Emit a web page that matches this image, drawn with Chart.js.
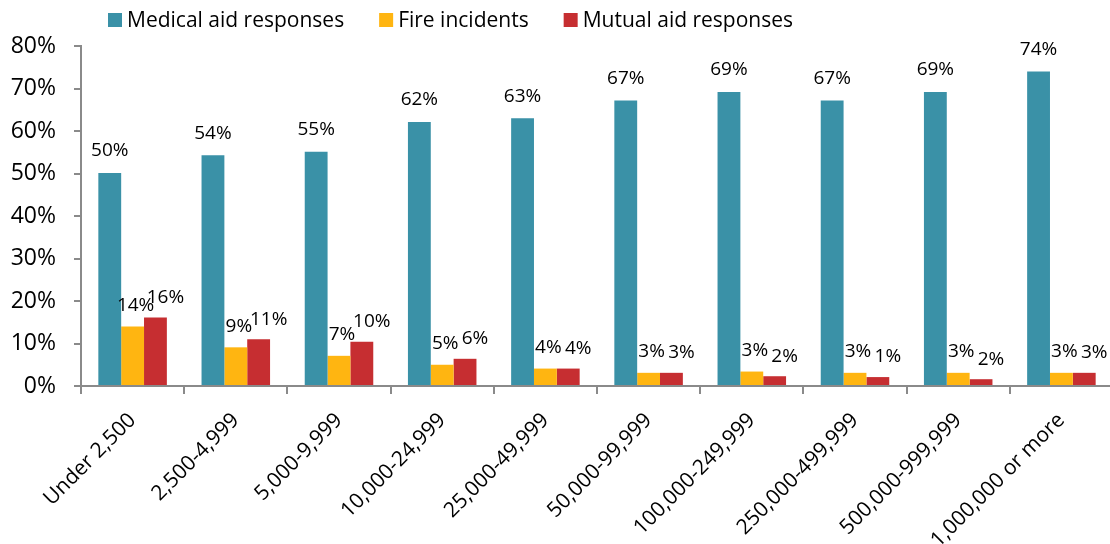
<!DOCTYPE html>
<html>
<head>
<meta charset="utf-8">
<script src="https://cdn.jsdelivr.net/npm/chart.js@4.4.0/dist/chart.umd.min.js"></script>
<style>
  html, body { margin: 0; padding: 0; background: #fff; overflow: hidden; }
  #wrap { width: 1116px; height: 544px; }
</style>
</head>
<body>
<div id="wrap"><canvas id="myChart" width="1116" height="544"></canvas></div>
<script>
// population groups
const categories = ['Under 2,500', '2,500-4,999', '5,000-9,999', '10,000-24,999', '25,000-49,999',
    '50,000-99,999', '100,000-249,999', '250,000-499,999', '500,000-999,999', '1,000,000 or more'];

// bar heights, percent
const medicalAid = [50.1, 54.3, 55.1, 62.1, 63.0, 67.2, 69.2, 67.2, 69.2, 74.0];
const fireIncidents = [14.0, 9.1, 7.1, 5.0, 4.1, 3.1, 3.4, 3.1, 3.1, 3.1];
const mutualAid = [16.1, 11.0, 10.4, 6.4, 4.1, 3.1, 2.3, 2.1, 1.6, 3.1];

// data labels as printed on the chart
const medicalLabels = ['50%', '54%', '55%', '62%', '63%', '67%', '69%', '67%', '69%', '74%'];
const fireLabels = ['14%', '9%', '7%', '5%', '4%', '3%', '3%', '3%', '3%', '3%'];
const mutualLabels = ['16%', '11%', '10%', '6%', '4%', '3%', '2%', '1%', '2%', '3%'];

const yTicks = [0, 10, 20, 30, 40, 50, 60, 70, 80];

const FONT = "'Open Sans', 'Noto Sans', sans-serif";
const AXIS = '#8a8a8a';

// legend drawn by hand so it sits where the original one does
const legendPlugin = {
    id: 'topLegend',
    afterDraw(chart) {
        const ctx = chart.ctx;
        ctx.save();
        ctx.font = '21px ' + FONT;
        ctx.textBaseline = 'middle';
        ctx.textAlign = 'left';
        let x = 108;
        const y = 20;
        chart.data.datasets.forEach(ds => {
            ctx.fillStyle = ds.backgroundColor;
            ctx.fillRect(x, y - 7, 14, 14);
            ctx.fillStyle = '#000';
            ctx.fillText(ds.label, x + 19, y + 1);
            x += 19 + ctx.measureText(ds.label).width + 35;
        });
        ctx.restore();
    }
};

const labelPlugin = {
    id: 'barLabels',
    afterDatasetsDraw(chart) {
        const ctx = chart.ctx;
        ctx.save();
        ctx.font = '19px ' + FONT;
        ctx.fillStyle = '#000';
        ctx.textAlign = 'center';
        ctx.textBaseline = 'middle';
        const offX = [0, 3, 10];
        const offY = [22, 21, 20];
        chart.data.datasets.forEach((ds, i) => {
            const meta = chart.getDatasetMeta(i);
            meta.data.forEach((bar, j) => {
                ctx.fillText(ds.labelsText[j], bar.x + offX[i], bar.y - offY[i]);
            });
        });
        ctx.restore();
    }
};

const ctx = document.getElementById('myChart').getContext('2d');
const myChart = new Chart(ctx, {
    type: 'bar',
    data: {
        labels: categories,
        datasets: [{
            label: 'Medical aid responses',
            data: medicalAid,
            labelsText: medicalLabels,
            backgroundColor: '#3a91a7'
        }, {
            label: 'Fire incidents',
            data: fireIncidents,
            labelsText: fireLabels,
            backgroundColor: '#ffb511'
        }, {
            label: 'Mutual aid responses',
            data: mutualAid,
            labelsText: mutualLabels,
            backgroundColor: '#c62e31'
        }]
    },
    options: {
        responsive: false,
        animation: false,
        devicePixelRatio: 1,
        layout: { padding: { top: 46, right: 3, left: 0, bottom: 0 } },
        datasets: {
            bar: { categoryPercentage: 0.664, barPercentage: 1.0 }
        },
        plugins: {
            legend: { display: false },
            tooltip: { enabled: false }
        },
        scales: {
            x: {
                grid: { drawOnChartArea: false, offset: true, color: AXIS, lineWidth: 2, tickLength: 8 },
                border: { color: AXIS, width: 2 },
                ticks: {
                    autoSkip: false,
                    minRotation: 45,
                    maxRotation: 45,
                    padding: 14,
                    color: '#000',
                    font: { family: FONT, size: 21 }
                },
                afterFit(scale) {
                    scale.height = 158;
                    scale.paddingLeft = 0;
                    scale.paddingRight = 0;
                }
            },
            y: {
                min: 0,
                max: 80,
                afterBuildTicks(scale) {
                    scale.ticks = yTicks.map(v => ({ value: v }));
                },
                grid: { drawOnChartArea: false, color: AXIS, lineWidth: 2, tickLength: 7 },
                border: { color: AXIS, width: 2 },
                ticks: {
                    padding: 18,
                    color: '#000',
                    font: { family: FONT, size: 23 },
                    callback: v => v + '%'
                },
                afterFit(scale) {
                    scale.width = 81;
                }
            }
        }
    },
    plugins: [labelPlugin, legendPlugin]
});
</script>
</body>
</html>
